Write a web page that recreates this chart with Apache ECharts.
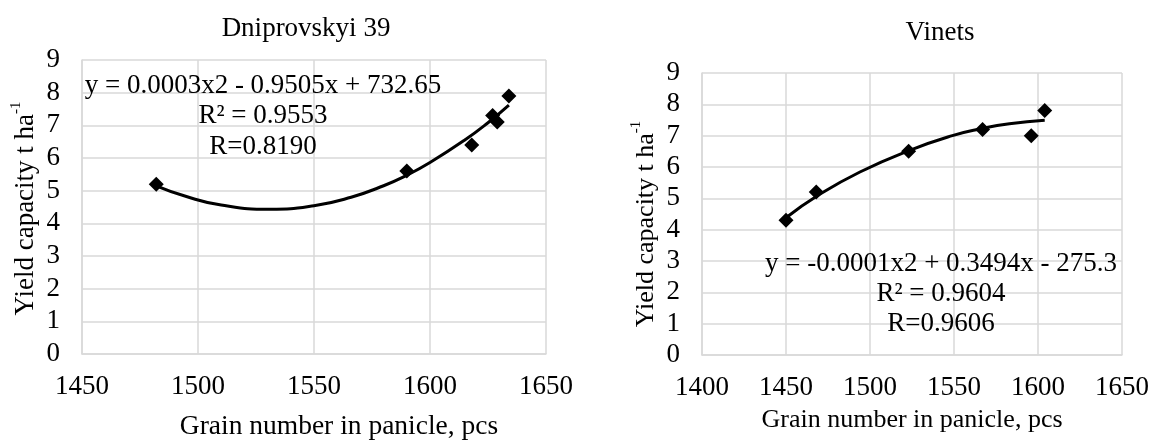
<!DOCTYPE html>
<html>
<head>
<meta charset="utf-8">
<script src="https://cdn.jsdelivr.net/npm/echarts@6/dist/echarts.min.js"></script>
<style>
html,body{margin:0;padding:0;background:#fff;}
#chart{width:1152px;height:446px;}
</style>
</head>
<body>
<div id="chart"></div>
<script>
// ---- Data ----
const dniprTitle = 'Dniprovskyi 39';
const dniprGrain = [1482, 1590, 1618, 1627, 1629, 1634];
const dniprYield = [5.2, 5.6, 6.4, 7.3, 7.1, 7.9];
const dniprTrendGrain = [1482, 1495, 1510, 1531, 1550, 1566, 1580, 1590, 1600, 1615, 1625, 1634];
const dniprTrendYield = [5.15, 4.82, 4.56, 4.43, 4.54, 4.8, 5.15, 5.47, 5.86, 6.55, 7.08, 7.62];
const dniprXTicks = [1450, 1500, 1550, 1600, 1650];
const dniprEquation = ['y = 0.0003x2 - 0.9505x + 732.65', 'R\u00B2 = 0.9553', 'R=0.8190'];

const vinetsTitle = 'Vinets';
const vinetsGrain = [1450, 1468, 1523, 1567, 1596, 1604];
const vinetsYield = [4.3, 5.2, 6.5, 7.2, 7.0, 7.8];
const vinetsTrendGrain = [1451, 1468, 1494, 1524, 1549, 1566, 1583, 1604];
const vinetsTrendYield = [4.42, 5.06, 5.84, 6.54, 7.0, 7.22, 7.38, 7.49];
const vinetsXTicks = [1400, 1450, 1500, 1550, 1600, 1650];
const vinetsEquation = ['y = -0.0001x2 + 0.3494x - 275.3', 'R\u00B2 = 0.9604', 'R=0.9606'];

const yTicks = [0, 1, 2, 3, 4, 5, 6, 7, 8, 9];
const xAxisTitle = 'Grain number in panicle, pcs';
const yAxisTitleMain = 'Yield capacity t ha';
const yAxisTitleSup = '-1';

// ---- Styling ----
const FONT = '"Liberation Serif", "Times New Roman", serif';
const GRID_COLOR = '#d9d9d9';

function pairs(xs, ys) { return xs.map((x, i) => [x, ys[i]]); }

function xAxisCfg(gridIndex, ticks, o) {
  return {
    type: 'value', gridIndex,
    min: ticks[0], max: ticks[ticks.length - 1], interval: ticks[1] - ticks[0],
    name: xAxisTitle, nameLocation: 'middle', nameGap: o.nameGap,
    nameTextStyle: { fontFamily: FONT, fontSize: o.nameSize, color: '#000', padding: [0, 0, 0, o.namePadLeft] },
    axisLine: { show: true, lineStyle: { color: GRID_COLOR, width: 1.5 } },
    axisTick: { show: false },
    axisLabel: { fontFamily: FONT, fontSize: 27, color: '#000', margin: o.labelMargin,
      formatter: v => String(v) },
    splitLine: { show: true, lineStyle: { color: GRID_COLOR, width: 1.5 } }
  };
}
function yAxisCfg(gridIndex, o) {
  return {
    type: 'value', gridIndex,
    min: yTicks[0], max: yTicks[yTicks.length - 1], interval: yTicks[1] - yTicks[0],
    name: '{a|' + yAxisTitleMain + '}{s|' + yAxisTitleSup + '}',
    nameLocation: 'middle', nameGap: o.nameGap, nameRotate: 90,
    nameTextStyle: {
      padding: [0, o.namePadRight, 0, 0],
      rich: {
        a: { fontFamily: FONT, fontSize: o.nameSize, color: '#000', lineHeight: 30, verticalAlign: 'bottom' },
        s: { fontFamily: FONT, fontSize: 15, color: '#000', lineHeight: 30, verticalAlign: 'top' }
      }
    },
    axisLine: { show: true, lineStyle: { color: GRID_COLOR, width: 1.5 } },
    axisTick: { show: false },
    axisLabel: { fontFamily: FONT, fontSize: 27, color: '#000', margin: 22 },
    splitLine: { show: true, lineStyle: { color: GRID_COLOR, width: 1.5 } }
  };
}
function eqText(lines, cx, ys) {
  return lines.map((t, i) => ({
    type: 'text', x: cx, y: ys[i], z: 100,
    style: { text: t, font: '27px ' + FONT, fill: '#000', textAlign: 'center', textVerticalAlign: 'middle' }
  }));
}

const titleStyle = (size) => ({ fontFamily: FONT, fontSize: size, fontWeight: 'normal', color: '#000' });

const chart = echarts.init(document.getElementById('chart'), null, { renderer: 'canvas' });
chart.setOption({
  backgroundColor: '#fff',
  animation: false,
  title: [
    { text: dniprTitle, left: 301, top: 10, textAlign: 'center', textStyle: titleStyle(27) },
    { text: vinetsTitle, left: 935, top: 14, textAlign: 'center', textStyle: titleStyle(27) }
  ],
  grid: [
    { left: 82, right: 606, top: 60, bottom: 86, containLabel: false },
    { left: 702, right: 29, top: 73, bottom: 91, containLabel: false }
  ],
  xAxis: [
    xAxisCfg(0, dniprXTicks, { nameGap: 59, nameSize: 27.5, namePadLeft: 50, labelMargin: 19 }),
    xAxisCfg(1, vinetsXTicks, { nameGap: 52, nameSize: 26, namePadLeft: 0, labelMargin: 19 })
  ],
  yAxis: [
    yAxisCfg(0, { nameGap: 43, nameSize: 27, namePadRight: 3 }),
    yAxisCfg(1, { nameGap: 43, nameSize: 26, namePadRight: 20 })
  ],
  series: [
    { type: 'line', xAxisIndex: 0, yAxisIndex: 0, data: pairs(dniprTrendGrain, dniprTrendYield),
      smooth: true, showSymbol: false, lineStyle: { color: '#000', width: 3 }, z: 2 },
    { type: 'scatter', xAxisIndex: 0, yAxisIndex: 0, data: pairs(dniprGrain, dniprYield),
      symbol: 'diamond', symbolSize: 15, itemStyle: { color: '#000', opacity: 1 }, z: 3 },
    { type: 'line', xAxisIndex: 1, yAxisIndex: 1, data: pairs(vinetsTrendGrain, vinetsTrendYield),
      smooth: true, showSymbol: false, lineStyle: { color: '#000', width: 3 }, z: 2 },
    { type: 'scatter', xAxisIndex: 1, yAxisIndex: 1, data: pairs(vinetsGrain, vinetsYield),
      symbol: 'diamond', symbolSize: 15, itemStyle: { color: '#000', opacity: 1 }, z: 3 }
  ],
  graphic: [].concat(
    eqText(dniprEquation, 263, [86, 116, 147]),
    eqText(vinetsEquation, 941, [264, 294, 324])
  )
});
</script>
</body>
</html>
